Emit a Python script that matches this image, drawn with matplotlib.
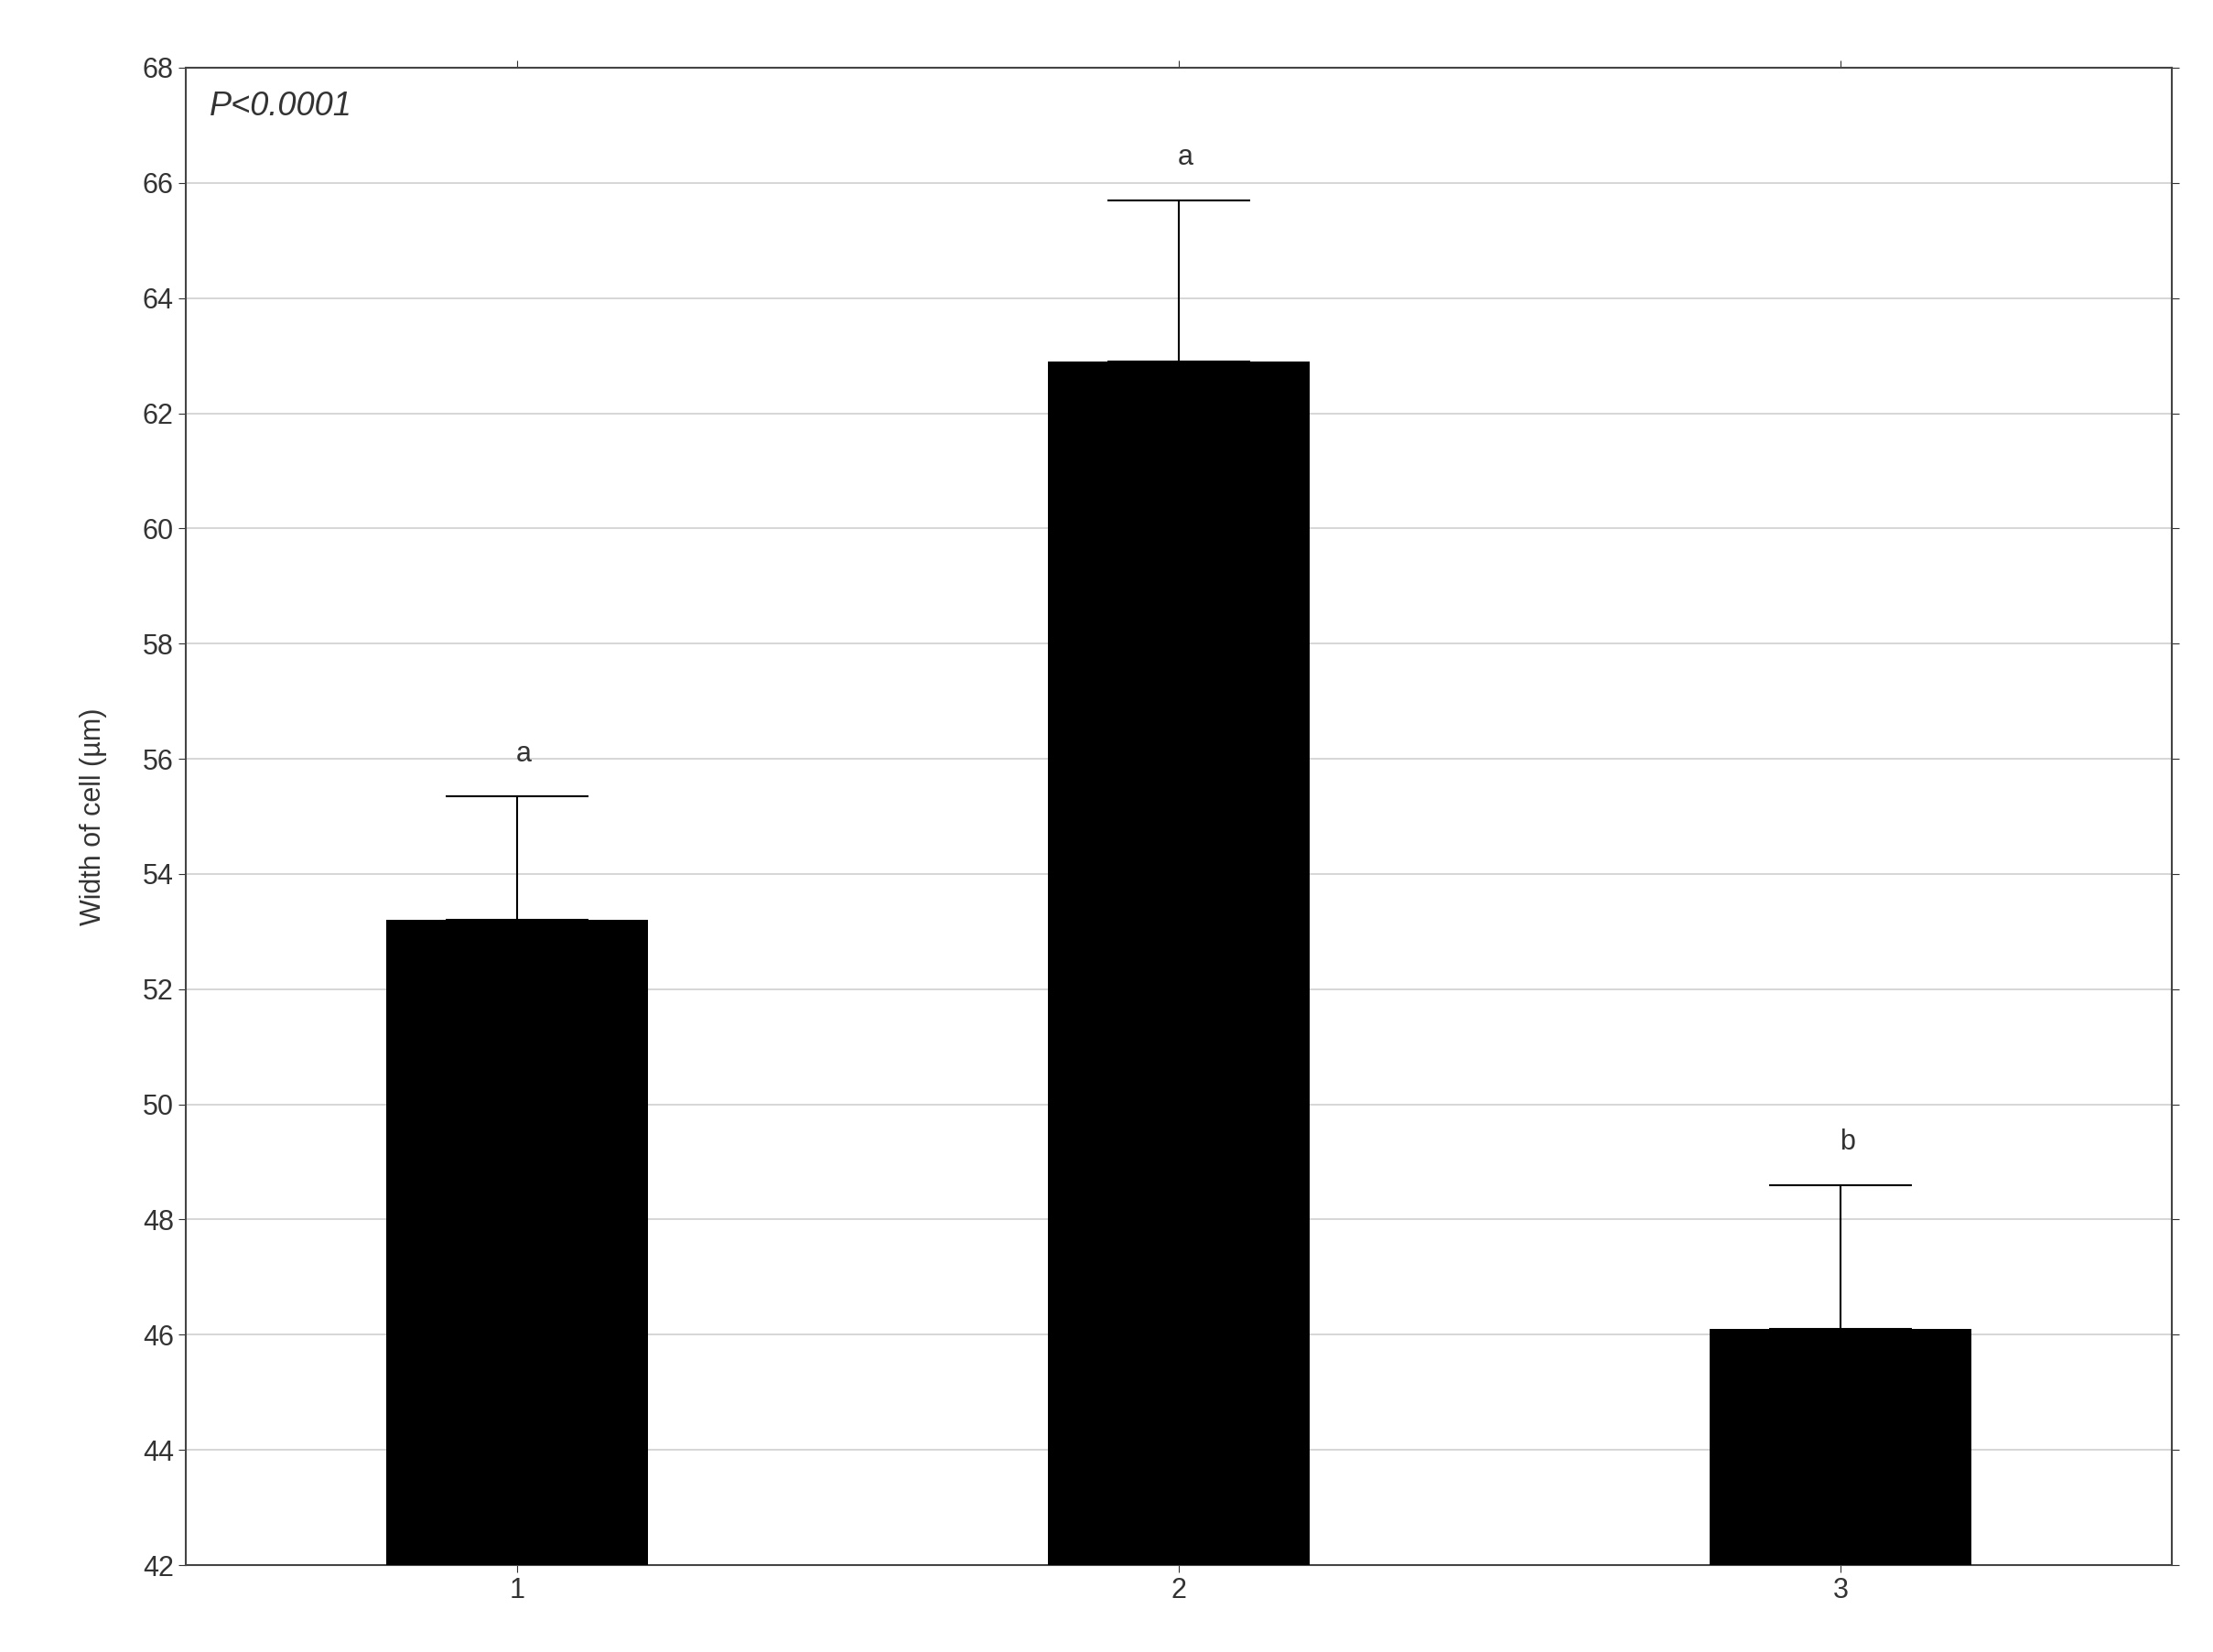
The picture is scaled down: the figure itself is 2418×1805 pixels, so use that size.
import numpy as np
import matplotlib.pyplot as plt

plt.rcParams['font.family'] = ['Liberation Sans', 'DejaVu Sans']

groups = ['1', '2', '3']
means = [53.2, 62.9, 46.1]
upper = [55.35, 65.7, 48.6]
letters = ['a', 'a', 'b']

fig = plt.figure(figsize=(24.18, 18.05), dpi=100)
ax = fig.add_axes([203/2418, 1-1710/1805, (2373-203)/2418, (1710-74)/1805])

x = np.arange(1, len(groups) + 1)
err = np.array(upper) - np.array(means)
ax.bar(x, np.array(means) - 42, bottom=42, width=0.395, color='black', zorder=3)
ax.errorbar(x, means, yerr=[np.zeros(3), err], fmt='none', ecolor='black',
            elinewidth=1.5, capsize=56, capthick=1.5, zorder=2)
for xi, u, l in zip(x, upper, letters):
    ax.text(xi + 0.01, u + 0.5, l, ha='center', va='bottom', fontsize=22, color='#333333')

ax.set_xlim(0.5, 3.5)
ax.set_ylim(42, 68)
ax.set_yticks(np.arange(42, 69, 2))
ax.set_xticks(x)
ax.set_xticklabels(groups)
ax.grid(axis='y', color='#d0d0d0', linewidth=1.2, zorder=0)
ax.tick_params(labelsize=22, colors='#333333', length=6, right=True, top=True)
for s in ax.spines.values():
    s.set_color('#444444')
    s.set_linewidth(1.5)
ax.set_ylabel('Width of cell (µm)', fontsize=22, color='#333333', labelpad=28)
ax.text(0.012, 0.985, 'P<0.0001', transform=ax.transAxes, ha='left', va='top',
        fontsize=26, style='italic', color='#333333')

plt.savefig('out.png')
